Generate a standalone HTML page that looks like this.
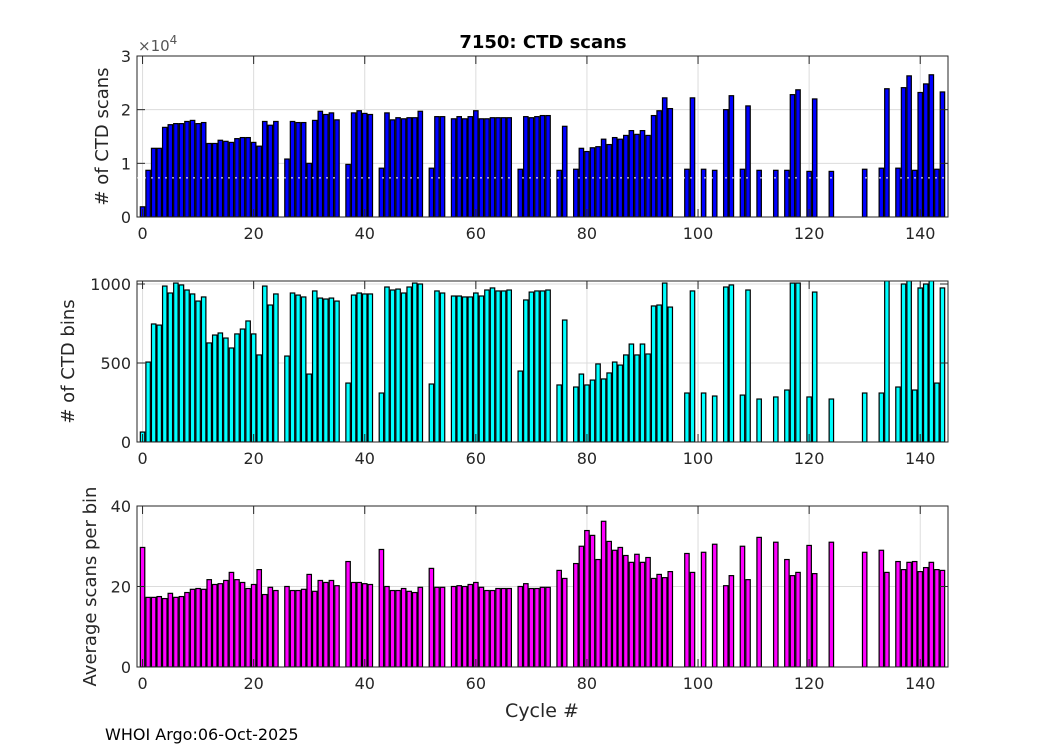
<!DOCTYPE html>
<html><head><meta charset="utf-8"><style>
body{margin:0;background:#fff;}
svg{display:block;font-family:"DejaVu Sans","Liberation Sans",sans-serif;}
</style></head><body>
<svg id="fig" width="1050" height="750" viewBox="0 0 1050 750" xmlns="http://www.w3.org/2000/svg">
<rect width="1050" height="750" fill="#fff"/>
<text x="543" y="48" text-anchor="middle" font-size="18" font-weight="bold" fill="#000">7150: CTD scans</text>
<text x="542" y="717" text-anchor="middle" font-size="19" fill="#262626">Cycle #</text>
<text x="105" y="740" font-size="16" fill="#000">WHOI Argo:06-Oct-2025</text>
</svg>
<script>
const cycles=[0,1,2,3,4,5,6,7,8,9,10,11,12,13,14,15,16,17,18,19,20,21,22,23,24,26,27,28,29,30,31,32,33,34,35,37,38,39,40,41,43,44,45,46,47,48,49,50,52,53,54,56,57,58,59,60,61,62,63,64,65,66,68,69,70,71,72,73,75,76,78,79,80,81,82,83,84,85,86,87,88,89,90,91,92,93,94,95,98,99,101,103,105,106,108,109,111,114,116,117,118,120,121,124,130,133,134,136,137,138,139,140,141,142,143,144];
const scans=[.19,.87,1.28,1.28,1.67,1.72,1.74,1.74,1.78,1.80,1.74,1.76,1.37,1.37,1.43,1.41,1.39,1.46,1.48,1.48,1.39,1.32,1.78,1.71,1.78,
1.08,1.78,1.76,1.76,1.00,1.80,1.97,1.91,1.94,1.81,
.98,1.94,1.98,1.93,1.91,
.91,1.94,1.81,1.85,1.83,1.85,1.85,1.97,
.91,1.87,1.87,
1.83,1.87,1.83,1.87,1.98,1.83,1.83,1.85,1.85,1.85,1.85,
.89,1.87,1.85,1.87,1.89,1.89,
.87,1.69,
.89,1.28,1.22,1.29,1.31,1.45,1.35,1.48,1.45,1.52,1.61,1.54,1.61,1.52,1.89,1.98,2.22,2.02,
.89,2.22,.89,.87,2.0,2.26,.89,2.07,.87,.87,.87,2.28,2.37,.85,2.20,.85,.89,.91,2.39,
.91,2.41,2.63,.87,2.32,2.48,2.65,.89,2.33];
const bins=[63,506,747,740,987,943,1006,994,962,937,892,918,627,677,690,658,595,684,715,766,684,551,987,867,937,
544,943,930,918,430,956,911,905,911,892,
373,930,943,937,937,
310,981,962,968,943,981,1006,1000,
367,956,943,
924,924,918,918,943,924,962,975,956,956,962,
449,899,949,956,956,962,
361,772,
348,430,361,392,494,399,437,506,487,551,620,551,620,557,861,867,1006,854,
310,956,310,291,981,994,297,962,272,285,329,1006,1006,285,949,272,310,310,1060,
348,1000,1050,329,975,1000,1040,373,975];
const avgs=[29.7,17.3,17.3,17.5,17.0,18.3,17.3,17.5,18.5,19.3,19.5,19.3,21.7,20.5,20.7,21.5,23.5,21.7,21.0,19.5,20.5,24.2,18.0,19.8,19.0,
20.0,19.0,19.0,19.3,23.0,18.8,21.5,21.0,21.5,20.2,
26.2,21.0,21.0,20.7,20.5,
29.2,20.0,19.0,19.0,19.5,18.8,18.5,19.8,
24.5,19.8,19.8,
20.0,20.2,20.0,20.5,21.0,19.8,19.0,19.0,19.5,19.5,19.5,
20.0,20.7,19.5,19.5,19.8,19.8,
24.0,22.0,
25.7,30.0,33.9,32.7,26.7,36.2,31.2,29.0,29.7,27.7,26.0,28.0,26.0,27.2,22.0,23.0,22.2,23.7,
28.2,23.5,28.5,30.5,20.2,22.7,30.0,21.7,32.2,31.0,26.7,22.7,23.5,30.2,23.2,31.0,28.5,29.0,23.5,
26.2,24.2,26.0,26.2,23.7,24.7,26.0,24.2,24.0];
const xTicks=[0,20,40,60,80,100,120,140];
const scanTicks=[0,1,2,3];
const binTicks=[0,500,1000];
const avgTicks=[0,20,40];
const refLine=[0.73];

const NS='http://www.w3.org/2000/svg';
const svg=document.getElementById('fig');
function mk(tag,attrs,parent){const e=document.createElementNS(NS,tag);for(const k in attrs)e.setAttribute(k,attrs[k]);(parent||svg).appendChild(e);return e;}
const L=137,W=811,XMIN=-1,XMAX=145;
const xs=v=>L+(v-XMIN)/(XMAX-XMIN)*W;

function panel(key,top,h,ymax,vals,ticks,color,ylabel,ylabelX){
  const ys=v=>top+h-(v/ymax)*h;
  const g=mk('g',{});
  
  
  const cid='clip-'+key;
  const cp=mk('clipPath',{id:cid},g);mk('rect',{x:L,y:top,width:W,height:h},cp);
  xTicks.forEach(t=>{const ln=mk('line',{x1:xs(t),x2:xs(t),y1:top,y2:top+h,stroke:'#dcdcdc','stroke-width':1},g);
    });
  ticks.forEach(t=>{const ln=mk('line',{x1:L,x2:L+W,y1:ys(t),y2:ys(t),stroke:'#dcdcdc','stroke-width':1},g);
    });
  const bg=mk('g',{'clip-path':'url(#'+cid+')'},g);
  cycles.forEach((c,i)=>{const v=vals[i];const y=ys(v);
    const r=mk('rect',{x:xs(c-0.4),y:y,width:xs(c+0.4)-xs(c-0.4),height:top+h-y,fill:color,stroke:'#000','stroke-width':1.2},bg);
    
    });
  mk('rect',{x:L,y:top,width:W,height:h,fill:'none',stroke:'#262626','stroke-width':1},g);
  xTicks.forEach(t=>{mk('line',{x1:xs(t),x2:xs(t),y1:top+h,y2:top+h-8,stroke:'#262626'},g);
    mk('line',{x1:xs(t),x2:xs(t),y1:top,y2:top+8,stroke:'#262626'},g);
    const tx=mk('text',{x:xs(t),y:top+h+22,'text-anchor':'middle','font-size':16,fill:'#262626'},g);tx.textContent=t;
    });
  ticks.forEach(t=>{mk('line',{x1:L,x2:L+8,y1:ys(t),y2:ys(t),stroke:'#262626'},g);
    mk('line',{x1:L+W,x2:L+W-8,y1:ys(t),y2:ys(t),stroke:'#262626'},g);
    const tx=mk('text',{x:L-6,y:ys(t)+6,'text-anchor':'end','font-size':16,fill:'#262626'},g);tx.textContent=t;
    });
  const yl=mk('text',{x:ylabelX,y:top+h/2,'text-anchor':'middle','font-size':18,fill:'#262626',transform:'rotate(-90 '+ylabelX+' '+(top+h/2)+')'},g);
  yl.textContent=ylabel;
  
  return {g,ys,cid};
}
const p1=panel('scans',56,161,3,scans,scanTicks,'#0000ff','# of CTD scans',108);
refLine.forEach(v=>{const ln=mk('line',{x1:L,x2:L+W,y1:p1.ys(v),y2:p1.ys(v),stroke:'#fff','stroke-width':1,'stroke-dasharray':'2,5','clip-path':'url(#'+p1.cid+')'},p1.g);
  });
const ex=mk('text',{x:138,y:51,'font-size':15,fill:'#555'});

ex.innerHTML='×10<tspan dy="-7" font-size="12">4</tspan>';
panel('bins',281,161,1019,bins,binTicks,'#00ffff','# of CTD bins',74);
panel('avg',506,161,40,avgs,avgTicks,'#ff00ff','Average scans per bin',96);
</script>
</body></html>
